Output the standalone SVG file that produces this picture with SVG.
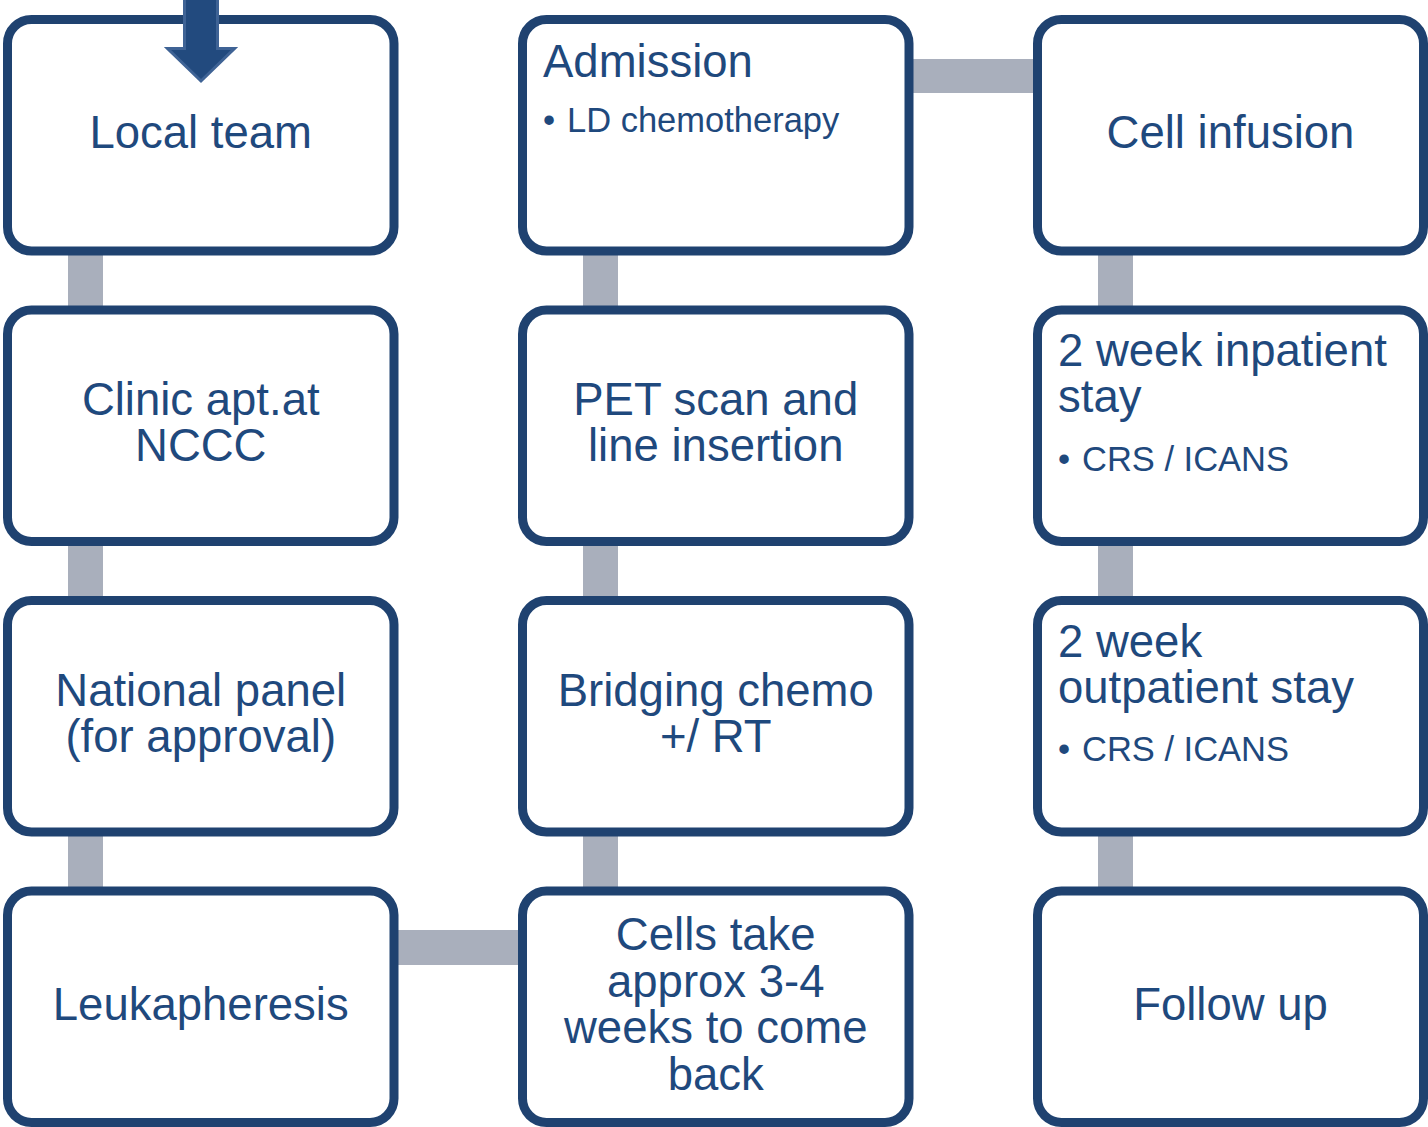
<svg xmlns="http://www.w3.org/2000/svg" width="1428" height="1127" viewBox="0 0 1428 1127">
<style>
.box{fill:#FFFFFF;stroke:#1F4270;stroke-width:9}
.conn{fill:#A9AFBC;stroke:none}
text{font-family:"Liberation Sans",Arial,sans-serif;fill:#1F497D}
.t{font-size:45.5px}
.c{text-anchor:middle}
.b{font-size:34.5px}
</style>
<rect width="1428" height="1127" fill="#FFFFFF"/>
<g id="connectors">
<rect class="conn" x="68" y="245" width="35" height="70"/>
<rect class="conn" x="68" y="536" width="35" height="70"/>
<rect class="conn" x="68" y="826" width="35" height="70"/>
<rect class="conn" x="583" y="245" width="35" height="70"/>
<rect class="conn" x="583" y="536" width="35" height="70"/>
<rect class="conn" x="583" y="826" width="35" height="70"/>
<rect class="conn" x="1098" y="245" width="35" height="70"/>
<rect class="conn" x="1098" y="536" width="35" height="70"/>
<rect class="conn" x="1098" y="826" width="35" height="70"/>
<rect class="conn" x="905" y="59" width="137" height="34"/>
<rect class="conn" x="390" y="930" width="137" height="35"/>
</g>
<g id="local-team">
<rect class="box" x="7.5" y="19.5" width="386.5" height="231.5" rx="24"/>
<text class="t c" x="200.75" y="148">Local team</text>
</g>
<g id="clinic">
<rect class="box" x="7.5" y="310" width="386.5" height="231.5" rx="24"/>
<text class="t c" x="200.75" y="415">Clinic apt.at</text>
<text class="t c" x="200.75" y="461">NCCC</text>
</g>
<g id="national-panel">
<rect class="box" x="7.5" y="600.5" width="386.5" height="231.5" rx="24"/>
<text class="t c" x="200.75" y="705.5">National panel</text>
<text class="t c" x="200.75" y="751.5">(for approval)</text>
</g>
<g id="leukapheresis">
<rect class="box" x="7.5" y="891" width="386.5" height="231.5" rx="24"/>
<text class="t c" x="200.75" y="1019.5">Leukapheresis</text>
</g>
<g id="admission">
<rect class="box" x="522.5" y="19.5" width="386.5" height="231.5" rx="24"/>
<text class="t" x="543" y="77">Admission</text>
<text class="b" x="543" y="132">•<tspan x="567">LD chemotherapy</tspan></text>
</g>
<g id="pet-scan">
<rect class="box" x="522.5" y="310" width="386.5" height="231.5" rx="24"/>
<text class="t c" x="715.75" y="415">PET scan and</text>
<text class="t c" x="715.75" y="461">line insertion</text>
</g>
<g id="bridging">
<rect class="box" x="522.5" y="600.5" width="386.5" height="231.5" rx="24"/>
<text class="t c" x="715.75" y="705.5">Bridging chemo</text>
<text class="t c" x="715.75" y="751.5">+/ RT</text>
</g>
<g id="cells-take">
<rect class="box" x="522.5" y="891" width="386.5" height="231.5" rx="24"/>
<text class="t c" x="715.75" y="950">Cells take</text>
<text class="t c" x="715.75" y="996.5">approx 3-4</text>
<text class="t c" x="715.75" y="1043">weeks to come</text>
<text class="t c" x="715.75" y="1089.5">back</text>
</g>
<g id="cell-infusion">
<rect class="box" x="1037.5" y="19.5" width="386" height="231.5" rx="24"/>
<text class="t c" x="1230.5" y="148">Cell infusion</text>
</g>
<g id="inpatient">
<rect class="box" x="1037.5" y="310" width="386" height="231.5" rx="24"/>
<text class="t" x="1058" y="366">2 week inpatient</text>
<text class="t" x="1058" y="412">stay</text>
<text class="b" x="1058" y="470.5">•<tspan x="1082">CRS / ICANS</tspan></text>
</g>
<g id="outpatient">
<rect class="box" x="1037.5" y="600.5" width="386" height="231.5" rx="24"/>
<text class="t" x="1058" y="657">2 week</text>
<text class="t" x="1058" y="703">outpatient stay</text>
<text class="b" x="1058" y="761">•<tspan x="1082">CRS / ICANS</tspan></text>
</g>
<g id="follow-up">
<rect class="box" x="1037.5" y="891" width="386" height="231.5" rx="24"/>
<text class="t c" x="1230.5" y="1019.5">Follow up</text>
</g>
<g id="start-arrow">
<polygon points="184.5,-2 217.5,-2 217.5,48.5 234.5,48.5 201,81 167.5,48.5 184.5,48.5" fill="#224A7E" stroke="#3F6395" stroke-width="3"/>
</g>
</svg>
